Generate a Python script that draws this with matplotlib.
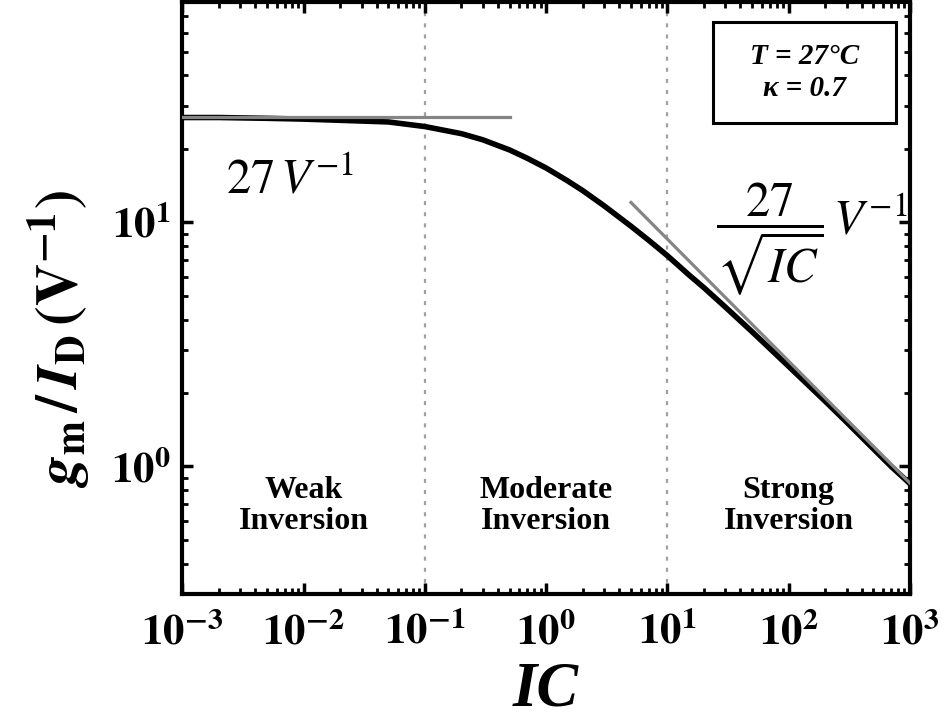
import matplotlib
matplotlib.use("Agg")
import matplotlib.pyplot as plt
from matplotlib.patches import Rectangle
from matplotlib.ticker import NullFormatter

# gm/ID curve (IC, V^-1)
ic = [1e-3, 2e-3, 5e-3, 1e-2, 2e-2, 5e-2, 0.1, 0.2, 0.3, 0.5, 0.7, 1, 1.5, 2, 3,
      5, 7, 10, 15, 20, 30, 50, 70, 100, 200, 300, 500, 700, 1000]
gm_id = [26.9, 26.9, 26.7, 26.5, 26.2, 25.8, 24.7, 23.1, 21.8, 19.8, 18.3, 16.7, 14.8, 13.5, 11.7,
         9.65, 8.45, 7.3, 6.1, 5.4, 4.5, 3.56, 3.04, 2.57, 1.85, 1.52, 1.18, 1.0, 0.85]

# asymptotes
weak_ic = [1e-3, 0.5]
weak_val = [27, 27]
strong_ic = [5, 1000]
strong_val = [12.07, 0.854]

region_bounds = [0.1, 10]
region_x = [0.01, 1, 100]
region_names = ["Weak\nInversion", "Moderate\nInversion", "Strong\nInversion"]

xticks = [1e-3, 1e-2, 1e-1, 1, 10, 100, 1000]
xticklabels = [r"$\mathbf{10^{-3}}$", r"$\mathbf{10^{-2}}$", r"$\mathbf{10^{-1}}$", r"$\mathbf{10^{0}}$",
               r"$\mathbf{10^{1}}$", r"$\mathbf{10^{2}}$", r"$\mathbf{10^{3}}$"]
yticks = [1, 10]
yticklabels = [r"$\mathbf{10^{0}}$", r"$\mathbf{10^{1}}$"]

plt.rcParams["mathtext.fontset"] = "stix"
plt.rcParams["font.family"] = ["Liberation Serif", "DejaVu Serif"]

fig = plt.figure(figsize=(9.45, 7.21), dpi=100)
ax = fig.add_axes([0.1931, 0.1761, 0.7698, 0.8211])
ax.set_xscale("log")
ax.set_yscale("log")

for b in region_bounds:
    ax.axvline(b, color="#a0a0a0", lw=1.6, dashes=(1.8, 3.2), zorder=1)

ax.plot(ic, gm_id, color="black", lw=4, solid_capstyle="butt", zorder=3)
ax.plot(weak_ic, weak_val, color="#858585", lw=2.3, zorder=4)
ax.plot(strong_ic, strong_val, color="#858585", lw=2.3, zorder=4)

ax.set_xlim(1e-3, 1e3)
ax.set_ylim(0.3, 80)

ax.set_xticks(xticks)
ax.set_xticklabels(xticklabels)
ax.set_yticks(yticks)
ax.set_yticklabels(yticklabels)
ax.xaxis.set_minor_formatter(NullFormatter())
ax.yaxis.set_minor_formatter(NullFormatter())
ax.tick_params(which="both", direction="in", top=True, right=True)
ax.tick_params(which="major", length=8, width=2.5, labelsize=31)
ax.tick_params(axis="x", which="major", pad=14)
ax.tick_params(axis="y", which="major", pad=8)
ax.tick_params(which="minor", length=4.5, width=2)
for s in ax.spines.values():
    s.set_linewidth(3)

for x, name in zip(region_x, region_names):
    ax.text(x, 0.69, name, ha="center", va="center", fontsize=23, fontweight="bold",
            linespacing=1.1)

ax.text(0.0023, 13.2, r"$27\,V^{-1}$", fontsize=35, ha="left", va="baseline")
ax.text(155, 8.6, r"$\dfrac{27}{\sqrt{IC}}\,V^{-1}$", fontsize=35, ha="center", va="center")

ax.add_patch(Rectangle((0.729, 0.796), 0.252, 0.170, transform=ax.transAxes,
                       fill=False, lw=2.2, edgecolor="black", zorder=5))
ax.text(0.855, 0.881, "T = 27\u00b0C\n\u03ba = 0.7", transform=ax.transAxes,
        ha="center", va="center", fontsize=21, fontweight="bold", fontstyle="italic",
        linespacing=1.25)

# x label as figure text so its box stays inside the canvas
fig.text(0.5776, 0.002, "IC", ha="center", va="bottom", fontsize=45,
         fontweight="bold", fontstyle="italic")
ax.set_ylabel(r"$\mathbfit{g}_{\mathbf{m}}\,\mathbf{/}\,\mathbfit{I}_{\mathbf{D}}\,\mathbf{(V^{-1})}$",
              fontsize=42)
ax.yaxis.set_label_coords(-0.125, 0.43)

fig.savefig("out.png", dpi=100)
